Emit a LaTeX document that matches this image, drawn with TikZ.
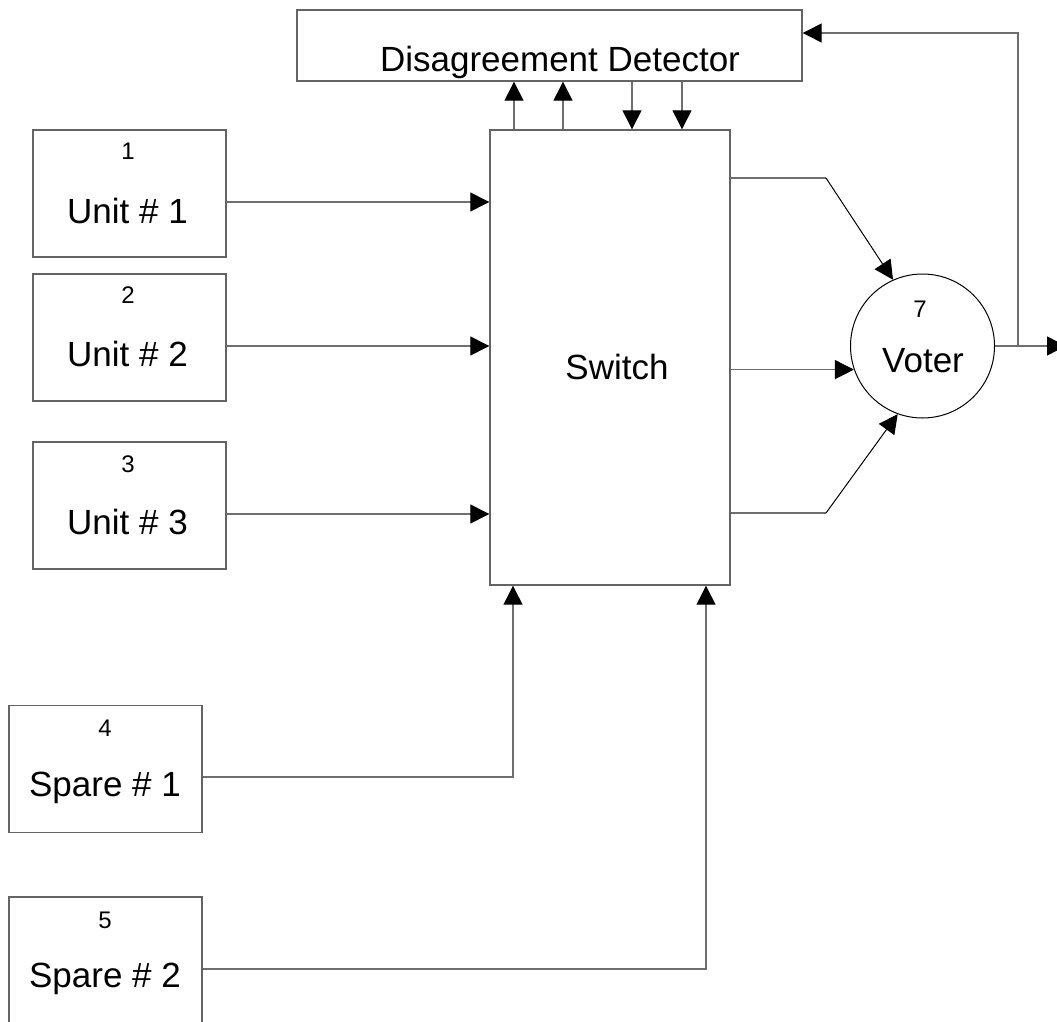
\documentclass[tikz,border=0pt]{standalone}
\usepackage{fontspec}
\setmainfont{Liberation Sans}
\usetikzlibrary{arrows.meta}
\definecolor{edgegray}{RGB}{100,100,100}
\definecolor{wiregray}{RGB}{110,110,110}
\begin{document}
\begin{tikzpicture}[x=1pt,y=-1pt,
  unitbox/.style={draw=edgegray, line width=1.4pt, inner sep=0pt,
    minimum width=193pt, minimum height=127pt},
  bigtext/.style={anchor=base, inner sep=0pt, font=\fontsize{35}{40}\selectfont},
  numtext/.style={anchor=base, inner sep=0pt, font=\fontsize{24}{28}\selectfont},
  wire/.style={draw=wiregray, line width=1.3pt},
  arrowed/.style={-{Triangle[length=19pt,width=19pt,color=black]}},
  slant/.style={draw=black, line width=1pt},
]
\useasboundingbox (0,0) rectangle (1057,1022);

% Disagreement detector
\node[draw=edgegray, line width=1.4pt, inner sep=0pt,
  minimum width=505pt, minimum height=71pt] (dd) at (549.5,45.5) {};
\node[bigtext] (ddlbl) at (560,72) {Disagreement Detector};

% Active units
\node[unitbox] (u1) at (129.5,193.5) {};
\node[numtext] (u1num) at (128,160) {1};
\node[bigtext] (u1lbl) at (127.5,223) {Unit \# 1};

\node[unitbox] (u2) at (129.5,337.5) {};
\node[numtext] (u2num) at (128,303) {2};
\node[bigtext] (u2lbl) at (127.5,366) {Unit \# 2};

\node[unitbox] (u3) at (129.5,505.5) {};
\node[numtext] (u3num) at (128,472) {3};
\node[bigtext] (u3lbl) at (127.5,534) {Unit \# 3};

% Spares
\node[unitbox] (s1) at (105.5,769) {};
\node[numtext] (s1num) at (105,736) {4};
\node[bigtext] (s1lbl) at (105,796) {Spare \# 1};

\node[unitbox, minimum height=128pt] (s2) at (105.5,961) {};
\node[numtext] (s2num) at (105,928) {5};
\node[bigtext] (s2lbl) at (105,987) {Spare \# 2};

% Switch
\node[draw=edgegray, line width=1.4pt, inner sep=0pt,
  minimum width=240pt, minimum height=455pt] (sw) at (610,357.5) {};
\node[bigtext] (swlbl) at (617,379) {Switch};

% Voter
\node[circle, draw=black, line width=1pt, inner sep=0pt, minimum size=144pt] (v) at (922.5,346) {};
\node[numtext] (vnum) at (920,317) {7};
\node[bigtext] (vlbl) at (923,372) {Voter};

% Units into the switch
\draw[wire, arrowed] (u1.east |- 0,202) -- (sw.west |- 0,202);
\draw[wire, arrowed] (u2.east |- 0,346) -- (sw.west |- 0,346);
\draw[wire, arrowed] (u3.east |- 0,514) -- (sw.west |- 0,514);

% Switch <-> disagreement detector
\draw[wire, arrowed] (sw.north -| 514,0) -- (dd.south -| 514,0);
\draw[wire, arrowed] (sw.north -| 563,0) -- (dd.south -| 563,0);
\draw[wire, arrowed] (dd.south -| 632,0) -- (sw.north -| 632,0);
\draw[wire, arrowed] (dd.south -| 682,0) -- (sw.north -| 682,0);

% Spares into the switch
\draw[wire, arrowed] (s1.east |- 0,777) -| (sw.south -| 513,0);
\draw[wire, arrowed] (s2.east |- 0,969) -| (sw.south -| 706,0);

% Switch outputs to the voter
\coordinate (bendtop) at (826,178);
\coordinate (bendbot) at (826,513);
\draw[wire] (sw.east |- bendtop) -- (bendtop);
\draw[slant, arrowed] (bendtop) -- (v.114);
\draw[wire, arrowed] (sw.east |- v.199) -- (v.199);
\draw[wire] (sw.east |- bendbot) -- (bendbot);
\draw[slant, arrowed] (bendbot) -- (v.250);

% Voter output and feedback to the detector
\coordinate (out) at (1066,346);
\coordinate (tap) at (1018,346);
\draw[wire, arrowed] (v.east) -- (out);
\draw[wire, arrowed] (tap) |- (dd.east |- 0,33);
\end{tikzpicture}
\end{document}
